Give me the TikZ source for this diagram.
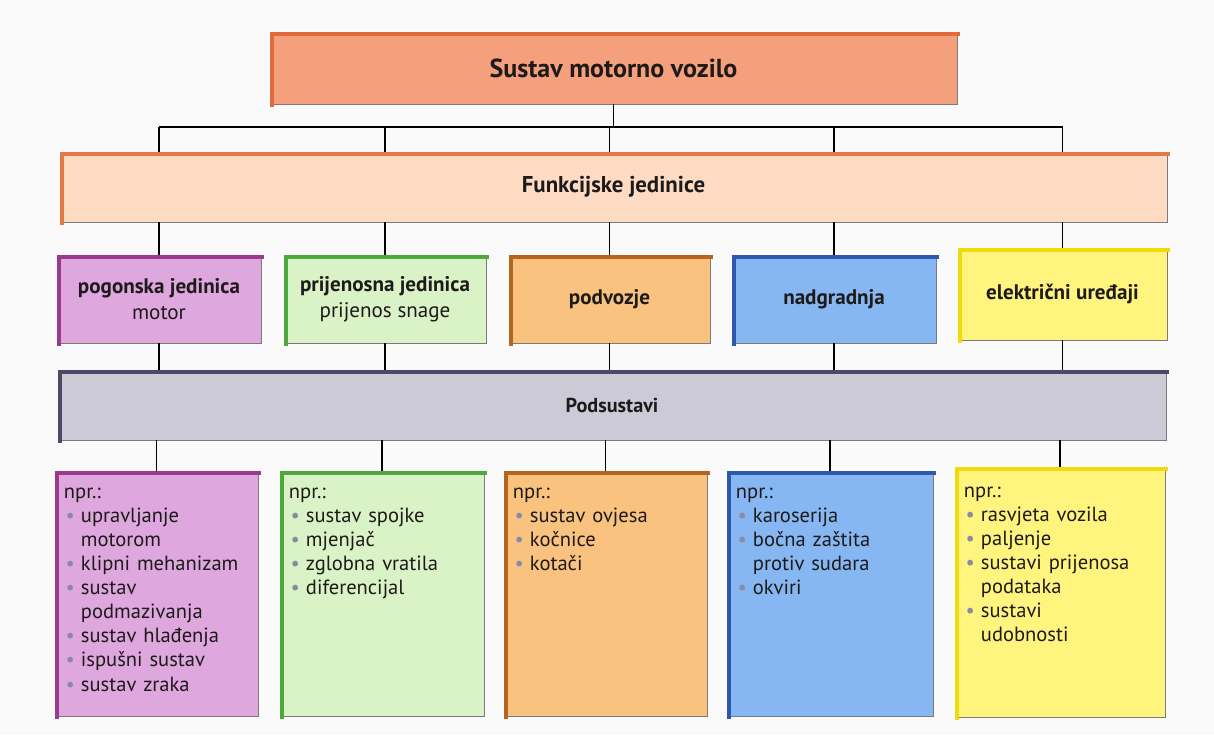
\documentclass[tikz,border=0pt]{standalone}
\usepackage{fontspec}
\setmainfont{PT Sans}
\definecolor{topfill}{HTML}{F5A07C}
\definecolor{topborder}{HTML}{E2693A}
\definecolor{funkfill}{HTML}{FDDCC3}
\definecolor{funkborder}{HTML}{E27A48}
\definecolor{purfill}{HTML}{DEA7DE}
\definecolor{purborder}{HTML}{9A3A8A}
\definecolor{grnfill}{HTML}{DAF3C6}
\definecolor{grnborder}{HTML}{4FA83E}
\definecolor{orgfill}{HTML}{F9C37F}
\definecolor{orgborder}{HTML}{B5651F}
\definecolor{blufill}{HTML}{86B7F2}
\definecolor{bluborder}{HTML}{2C58B0}
\definecolor{yelfill}{HTML}{FFF47E}
\definecolor{yelborder}{HTML}{F2D90A}
\definecolor{grayfill}{HTML}{CBCAD6}
\definecolor{grayborder}{HTML}{4B4A66}
\definecolor{bulgray}{HTML}{8A8AA2}
\definecolor{linegray}{HTML}{7A7A7A}
\definecolor{textdark}{HTML}{1E1A1A}
\newcommand\itm[1]{\par\noindent\makebox[9.7pt][l]{\hspace{1pt}\textcolor{bulgray}{\textbullet}}#1}
\newcommand\cnt[1]{\par\noindent\hspace*{9.7pt}#1}
\tikzset{
  sz/.style 2 args={minimum width=#1*0.02cm, minimum height=#2*0.02cm, inner sep=0pt},
  box/.style 2 args={draw=linegray, line width=0.5pt, fill=#1, text=textdark},
  conn/.style={draw=black, line width=0.7pt},
  listtext/.style={anchor=north west, inner sep=0pt, text width=3.8cm, align=left, text=textdark,
     font=\fontsize{11.7}{13.7}\selectfont},
}
\newcommand\topleft[2]{\draw[#2, line width=2.6pt, line cap=rect] ([xshift=1.3pt]#1.south west) -- ([xshift=1.3pt,yshift=-1.3pt]#1.north west) -- ([yshift=-1.3pt]#1.north east);}
\begin{document}
\begin{tikzpicture}[x=0.02cm,y=-0.02cm]
\useasboundingbox (0,0) rectangle (1214,735);
\fill[white!98!black] (0,0) rectangle (1214,735);

% top
\node[box={topfill}{}, sz={687}{72}, font=\fontsize{14.8}{16}\selectfont\bfseries] (top) at (613.5,68) {Sustav motorno vozilo};
\topleft{top}{topborder}

% functional units
\node[box={funkfill}{}, sz={1107}{70}, font=\fontsize{13}{15}\selectfont\bfseries] (funk) at (613.5,187) {Funkcijske jedinice};
\topleft{funk}{funkborder}

% row 1
\node[box={purfill}{}, sz={204}{88}, align=center, font=\fontsize{12}{14.5}\selectfont] (r1) at (159,299) {\textbf{pogonska jedinica}\\motor};
\node[box={grnfill}{}, sz={202}{88}, align=center, font=\fontsize{12}{14.5}\selectfont] (r2) at (385,299) {\textbf{prijenosna jedinica}\\prijenos snage};
\node[box={orgfill}{}, sz={201}{88}, align=center, font=\fontsize{12}{14.5}\selectfont\bfseries] (r3) at (609.5,299) {podvozje};
\node[box={blufill}{}, sz={204}{88}, align=center, font=\fontsize{12}{14.5}\selectfont\bfseries] (r4) at (834,299) {nadgradnja};
\node[box={yelfill}{}, sz={209}{92}, align=center, font=\fontsize{12}{14.5}\selectfont\bfseries] (r5) at (1062.5,294) {električni uređaji};
\topleft{r1}{purborder}
\topleft{r2}{grnborder}
\topleft{r3}{orgborder}
\topleft{r4}{bluborder}
\topleft{r5}{yelborder}

% podsustavi
\node[box={grayfill}{}, sz={1108}{70}, font=\fontsize{11.5}{14}\selectfont\bfseries] (pod) at (612,405) {Podsustavi};
\topleft{pod}{grayborder}

% row 2
\node[box={purfill}{}, sz={203}{245}] (s1) at (156.5,593.5) {};
\node[box={grnfill}{}, sz={204}{245}] (s2) at (382,593.5) {};
\node[box={orgfill}{}, sz={203}{245}] (s3) at (605.5,593.5) {};
\node[box={blufill}{}, sz={206}{245}] (s4) at (830,593.5) {};
\node[box={yelfill}{}, sz={210}{250}] (s5) at (1060,592) {};
\topleft{s1}{purborder}
\topleft{s2}{grnborder}
\topleft{s3}{orgborder}
\topleft{s4}{bluborder}
\topleft{s5}{yelborder}

\node[listtext] (t1) at ([xshift=9*0.02cm,yshift=-17*0.02cm]s1.north west) {npr.:
\itm{upravljanje}\cnt{motorom}\itm{klipni mehanizam}\itm{sustav}\cnt{podmazivanja}\itm{sustav hlađenja}\itm{ispušni sustav}\itm{sustav zraka}};
\node[listtext] (t2) at ([xshift=9*0.02cm,yshift=-17*0.02cm]s2.north west) {npr.:
\itm{sustav spojke}\itm{mjenjač}\itm{zglobna vratila}\itm{diferencijal}};
\node[listtext] (t3) at ([xshift=9*0.02cm,yshift=-17*0.02cm]s3.north west) {npr.:
\itm{sustav ovjesa}\itm{kočnice}\itm{kotači}};
\node[listtext] (t4) at ([xshift=9*0.02cm,yshift=-17*0.02cm]s4.north west) {npr.:
\itm{karoserija}\itm{bočna zaštita}\cnt{protiv sudara}\itm{okviri}};
\node[listtext] (t5) at ([xshift=9*0.02cm,yshift=-20*0.02cm]s5.north west) {npr.:
\itm{rasvjeta vozila}\itm{paljenje}\itm{sustavi prijenosa}\cnt{podataka}\itm{sustavi}\cnt{udobnosti}};

% connectors
\coordinate (bus) at (611,127);
\draw[conn] (top.south) -- (top.south |- bus);
\draw[conn] (r1.north |- bus) -- (r5.north |- bus);
\foreach \i in {1,...,5}{
  \draw[conn] (r\i.north |- bus) -- (r\i.north |- funk.north);
  \draw[conn] (r\i.north |- funk.south) -- (r\i.north);
  \draw[conn] (r\i.south) -- (r\i.south |- pod.north);
  \draw[conn] (s\i.north |- pod.south) -- (s\i.north);
}
\end{tikzpicture}
\end{document}
